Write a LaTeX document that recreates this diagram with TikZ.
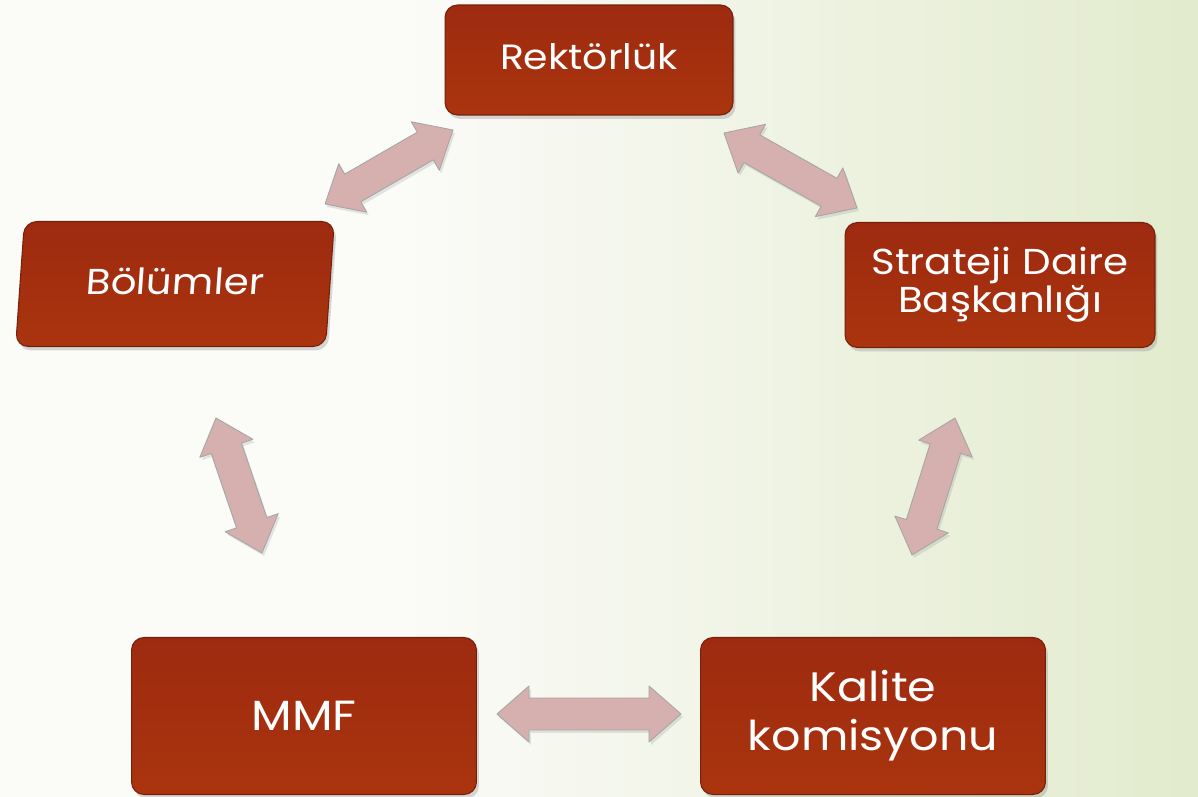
\documentclass[tikz,border=0pt]{standalone}
\usepackage{fontspec}
\setmainfont{Poppins}[FakeStretch=1.12]
\usetikzlibrary{calc,shadows}
\definecolor{boxred}{RGB}{158,42,16}
\definecolor{arrowpink}{RGB}{214,175,175}
\definecolor{bgleft}{RGB}{251,251,248}
\definecolor{bgright}{RGB}{226,235,205}
\newcommand{\dblarrow}[2]{%
  \draw[arrowb] let \p1=(#1), \p2=(#2), \n1={atan2(\y2-\y1,\x2-\x1)}, \n2={veclen(\x2-\x1,\y2-\y1)} in
    [shift={(\p1)}, rotate=\n1]
    (0pt,0pt) -- (0.64cm,0.56cm) -- (0.64cm,0.32cm) -- (\n2-0.64cm,0.32cm) -- (\n2-0.64cm,0.56cm)
    -- (\n2,0pt) -- (\n2-0.64cm,-0.56cm) -- (\n2-0.64cm,-0.32cm) -- (0.64cm,-0.32cm) -- (0.64cm,-0.56cm) -- cycle;}

\begin{document}
\begin{tikzpicture}[x=0.02cm,y=-0.02cm]
%define
\tikzstyle{state} = [rectangle, rounded corners=0.25cm, text centered, align=center, draw=boxred!75!black, line width=0.6pt, top color=boxred, bottom color=boxred!88!orange, text=white, drop shadow={shadow xshift=0.05cm, shadow yshift=-0.08cm, opacity=0.3}]
\tikzstyle{state_s} = [state, minimum width=5.76cm, minimum height=2.2cm]
\tikzstyle{state_m} = [state, minimum width=6.2cm, minimum height=2.5cm]
\tikzstyle{state_l} = [state, minimum width=6.9cm, minimum height=3.14cm]
\tikzstyle{arrowb} = [fill=arrowpink, draw=gray!70, line width=0.5pt, line join=round, drop shadow={shadow xshift=0.04cm, shadow yshift=-0.06cm, opacity=0.2}]

%background
\useasboundingbox (0,0) rectangle (1198,797);
\fill[bgleft] (0,0) rectangle (401,797);
\shade[left color=bgleft, right color=bgright] (400,0) rectangle (1198,797);

\node[state_s, font=\fontsize{20}{24}\selectfont](state_Rektor) at (589,60){\raisebox{0.12cm}{Rektörlük}};
\node[state_m, xslant=0.07, transform shape, font=\fontsize{20.5}{24}\selectfont](state_Bolum) at (175,284){\raisebox{0.1cm}{Bölümler}};
\node[state_m, font=\fontsize{20.5}{21.6}\selectfont](state_Strateji) at (1000,285){Strateji Daire\\Başkanlığı};
\node[state_l, font=\fontsize{24}{28}\selectfont](state_MMF) at (304,716){MMF};
\node[state_l, font=\fontsize{23.4}{27.8}\selectfont](state_Kalite) at (873,716){Kalite\\komisyonu};

%ends
\coordinate (rb_a) at ($(state_Rektor)+(-136,70)$);
\coordinate (rb_b) at ($(state_Bolum)+(150,-80)$);
\coordinate (rs_a) at ($(state_Rektor)+(135,73)$);
\coordinate (rs_b) at ($(state_Strateji)+(-143,-77)$);
\coordinate (bm_a) at ($(state_Bolum)+(41,134)$);
\coordinate (bm_b) at ($(state_MMF)+(-42,-163)$);
\coordinate (sk_a) at ($(state_Strateji)+(-45,133)$);
\coordinate (sk_b) at ($(state_Kalite)+(39,-161)$);
\coordinate (mk_a) at ($(state_MMF)+(193,-2)$);
\coordinate (mk_b) at ($(state_Kalite)+(-192,-2)$);

%line
\dblarrow{rb_a}{rb_b} %Rektorluk<->Bolumler
\dblarrow{rs_a}{rs_b} %Rektorluk<->Strateji
\dblarrow{bm_a}{bm_b} %Bolumler<->MMF
\dblarrow{sk_a}{sk_b} %Strateji<->Kalite
\dblarrow{mk_a}{mk_b} %MMF<->Kalite

\end{tikzpicture}
\end{document}
